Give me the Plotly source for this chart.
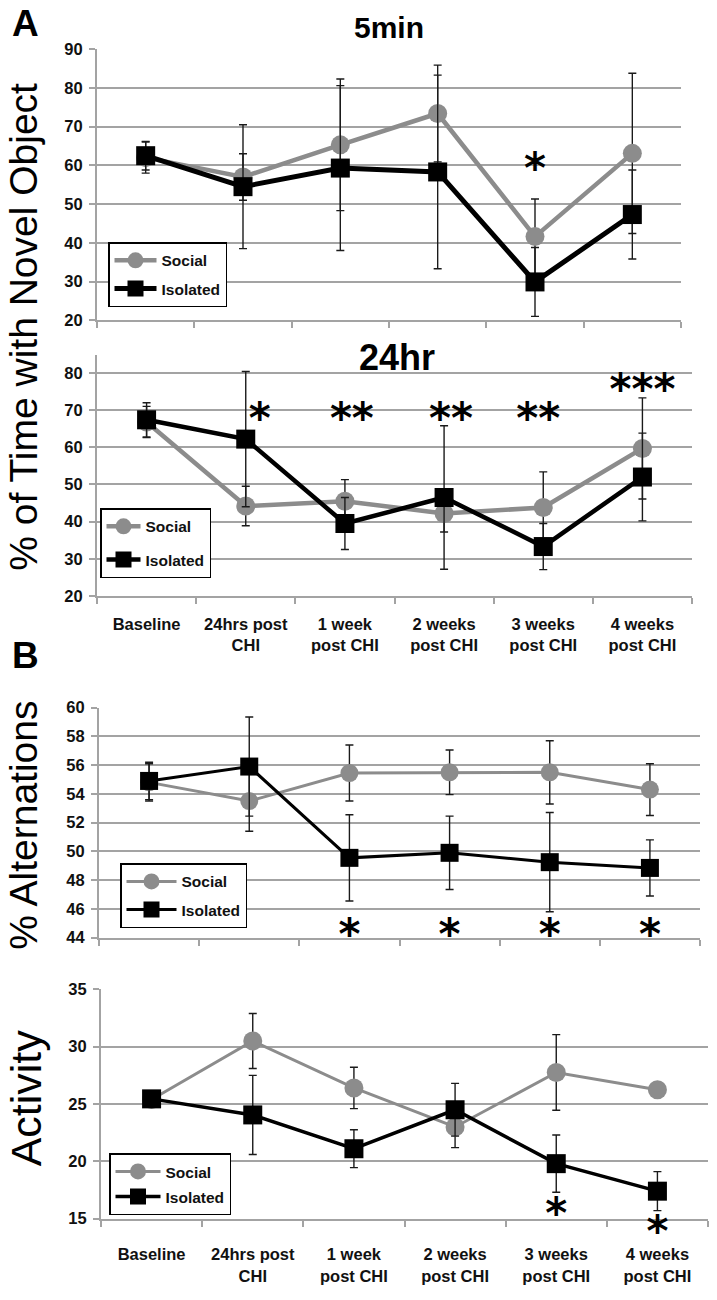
import plotly.graph_objects as go

# ---------------- data ----------------
categories = ["Baseline", "24hrs post<br>CHI", "1 week<br>post CHI",
              "2 weeks<br>post CHI", "3 weeks<br>post CHI", "4 weeks<br>post CHI"]
x_pos = list(range(len(categories)))

# Panel A, 5min
nov5_social = [62.0, 57.0, 65.3, 73.4, 41.6, 63.1]
nov5_social_err = [4.0, 6.0, 17.0, 12.5, 9.7, 20.7]
nov5_isolated = [62.5, 54.5, 59.3, 58.3, 29.9, 47.3]
nov5_isolated_err = [3.7, 16.0, 21.3, 25.0, 8.9, 11.5]
nov5_star_x = [4]
nov5_star_y = [58.2]
nov5_star_txt = ["*"]

# Panel A, 24hr
nov24_social = [66.8, 44.2, 45.5, 42.2, 43.8, 59.7]
nov24_social_err = [4.2, 5.3, 5.8, 5.0, 9.6, 13.6]
nov24_isolated = [67.4, 62.2, 39.5, 46.5, 33.3, 52.0]
nov24_isolated_err = [4.6, 18.2, 7.0, 19.3, 6.2, 11.8]
nov24_star_x = [1.14, 2.07, 3.07, 3.95, 5.0]
nov24_star_y = [66.6, 66.6, 66.6, 66.6, 74.6]
nov24_star_txt = ["*", "**", "**", "**", "***"]

# Panel B, % alternations
alt_social = [54.8, 53.5, 55.45, 55.5, 55.5, 54.3]
alt_social_err = [1.3, 2.1, 1.95, 1.55, 2.2, 1.8]
alt_isolated = [54.9, 55.9, 49.55, 49.9, 49.25, 48.85]
alt_isolated_err = [1.3, 3.45, 3.0, 2.55, 3.45, 1.95]
alt_star_x = [2.0, 3.0, 4.0, 5.0]
alt_star_y = [43.95, 43.95, 43.95, 43.95]
alt_star_txt = ["*", "*", "*", "*"]

# Panel B, activity
act_social = [25.4, 30.5, 26.4, 23.0, 27.75, 26.25]
act_social_err = [0.6, 2.4, 1.8, 1.8, 3.3, 0.35]
act_isolated = [25.45, 24.05, 21.1, 24.5, 19.8, 17.4]
act_isolated_err = [0.6, 3.45, 1.65, 2.3, 2.5, 1.7]
act_star_x = [4.0, 5.0]
act_star_y = [15.1, 13.5]
act_star_txt = ["*", "*"]

# ---------------- geometry / style ----------------
W, H = 717, 1300
# the photographed page comes out slightly squeezed vertically; pre-compensate
VS, VOFF = 0.986, 8.8


def fx(p):
    return p / W


def fy(p):
    return 1 - ((p - VOFF) / VS) / H


GRAY = "#8c8c8c"
GRID = "#a3a3a3"
SANS = "Liberation Sans, Arial, sans-serif"
TICKFONT = dict(family=SANS, size=16.5, color="#111111", weight="bold")
STARFONT = dict(family="DejaVu Sans, sans-serif", size=42, color="black", weight="bold")
LEGFONT = dict(family=SANS, size=15.5, color="#111111", weight="bold")

panels = [
    dict(s=nov5_social, se=nov5_social_err, i=nov5_isolated, ie=nov5_isolated_err,
         sx=nov5_star_x, sy=nov5_star_y, st=nov5_star_txt, lw_s=4.5, lw_i=5, ms=19,
         xpx=(97, 681), ypx=(49, 320), yr=[20, 90], dt=10,
         labels=False, stand=12, leg=(108, 242), gap=5, iw=42),
    dict(s=nov24_social, se=nov24_social_err, i=nov24_isolated, ie=nov24_isolated_err,
         sx=nov24_star_x, sy=nov24_star_y, st=nov24_star_txt, lw_s=4.5, lw_i=4.5, ms=19,
         xpx=(97, 692), ypx=(355, 595.7), yr=[20, 84.76], dt=10,
         labels=True, stand=12, leg=(100, 508), gap=10, iw=34),
    dict(s=alt_social, se=alt_social_err, i=alt_isolated, ie=alt_isolated_err,
         sx=alt_star_x, sy=alt_star_y, st=alt_star_txt, lw_s=3, lw_i=3, ms=18,
         xpx=(99, 700), ypx=(707.3, 937.3), yr=[44, 60], dt=2,
         labels=False, stand=12, leg=(120, 863), gap=5, iw=50),
    dict(s=act_social, se=act_social_err, i=act_isolated, ie=act_isolated_err,
         sx=act_star_x, sy=act_star_y, st=act_star_txt, lw_s=3, lw_i=3.5, ms=19,
         xpx=(101, 708), ypx=(989, 1218.3), yr=[15, 35], dt=5,
         labels=True, stand=20, leg=(109, 1153), gap=2, iw=45),
]

fig = go.Figure()
layout = dict(width=W, height=H, margin=dict(l=0, r=0, t=0, b=0),
              paper_bgcolor="white", plot_bgcolor="rgba(0,0,0,0)", showlegend=True)

for k, p in enumerate(panels, start=1):
    xa = "x" if k == 1 else f"x{k}"
    ya = "y" if k == 1 else f"y{k}"
    lg = "legend" if k == 1 else f"legend{k}"
    fig.add_trace(go.Scatter(
        x=x_pos, y=p["s"], name="Social", mode="lines+markers", legendgroup="s",
        line=dict(color=GRAY, width=p["lw_s"]),
        marker=dict(symbol="circle", size=p["ms"], color=GRAY),
        error_y=dict(type="data", array=p["se"], color="#1a1a1a", thickness=1.4, width=4),
        xaxis=xa, yaxis=ya, legend=lg, cliponaxis=False))
    fig.add_trace(go.Scatter(
        x=x_pos, y=p["i"], name="Isolated", mode="lines+markers", legendgroup="i",
        line=dict(color="black", width=p["lw_i"]),
        marker=dict(symbol="square", size=p["ms"], color="black"),
        error_y=dict(type="data", array=p["ie"], color="#1a1a1a", thickness=1.4, width=4),
        xaxis=xa, yaxis=ya, legend=lg, cliponaxis=False))

    axkey = "xaxis" if k == 1 else f"xaxis{k}"
    aykey = "yaxis" if k == 1 else f"yaxis{k}"
    layout[axkey] = dict(
        domain=[fx(p["xpx"][0]), fx(p["xpx"][1])], anchor=ya, range=[-0.5, 5.5],
        type="linear", tickmode="array", tickvals=x_pos, ticktext=categories,
        showticklabels=p["labels"], ticks="", tickfont=TICKFONT,
        ticklabelstandoff=p["stand"],
        minor=dict(tickmode="array", tickvals=[v - 0.5 for v in range(7)],
                   ticks="outside", ticklen=6, tickwidth=1.5, tickcolor=GRID, showgrid=False),
        showline=True, linecolor=GRID, linewidth=2, showgrid=False, zeroline=False,
        fixedrange=True)
    layout[aykey] = dict(
        domain=[fy(p["ypx"][1]), fy(p["ypx"][0])], anchor=xa, range=p["yr"],
        tick0=p["yr"][0], dtick=p["dt"],
        ticks="outside", ticklen=6, tickwidth=1.5, tickcolor=GRID, tickfont=TICKFONT,
        ticklabelstandoff=3,
        showline=True, linecolor=GRID, linewidth=2, showgrid=True, gridcolor=GRID,
        gridwidth=2, zeroline=False, fixedrange=True)
    lx, ly = p["leg"]
    layout[lg] = dict(
        x=fx(lx), y=fy(ly), xanchor="left", yanchor="top",
        bgcolor="white", bordercolor="black", borderwidth=1.5,
        font=LEGFONT, itemwidth=p["iw"], tracegroupgap=p["gap"])

    # significance stars: drawn on a hidden y axis that has the same scale as the
    # panel but extends 40 px lower, so stars below the panel floor are still drawn
    ext = 40
    scale = (p["ypx"][1] - p["ypx"][0]) / (p["yr"][1] - p["yr"][0])
    sk = k + 4
    sya = f"y{sk}"
    layout[f"yaxis{sk}"] = dict(
        domain=[fy(p["ypx"][1] + ext), fy(p["ypx"][0])], anchor=xa,
        range=[p["yr"][0] - ext / scale, p["yr"][1]], visible=False, fixedrange=True)
    fig.add_trace(go.Scatter(
        x=p["sx"], y=p["sy"], text=p["st"], mode="text", textposition="middle center",
        textfont=STARFONT, showlegend=False, hoverinfo="skip",
        xaxis=xa, yaxis=sya, cliponaxis=False))

fig.update_layout(**layout)

ann = [
    dict(text="A", x=fx(25), y=fy(23), xanchor="center",
         font=dict(family=SANS, size=37, weight="bold", color="black")),
    dict(text="B", x=fx(25), y=fy(655), xanchor="center",
         font=dict(family=SANS, size=37, weight="bold", color="black")),
    dict(text="5min", x=fx(389), y=fy(27), xanchor="center",
         font=dict(family=SANS, size=30, weight="bold", color="black")),
    dict(text="24hr", x=fx(397), y=fy(357), xanchor="center",
         font=dict(family=SANS, size=36, weight="bold", color="black")),
    dict(text="% of Time with Novel Object", x=0, y=fy(327), textangle=-90,
         xanchor="left", font=dict(family=SANS, size=39, color="black")),
    dict(text="% Alternations", x=0, y=fy(825), textangle=-90,
         xanchor="left", font=dict(family=SANS, size=39, color="black")),
    dict(text="Activity", x=0, y=fy(1098), textangle=-90,
         xanchor="left", font=dict(family=SANS, size=43, color="black")),
]
for a in ann:
    a.update(xref="paper", yref="paper", yanchor="middle", showarrow=False)
fig.update_layout(annotations=ann)

page_css = ("var s=document.body.style;s.margin='0';s.padding='0';"
            "s.fontSize='0';s.lineHeight='0';s.overflow='hidden';")
fig.write_html("out.html", post_script=page_css, config={"displayModeBar": False})
